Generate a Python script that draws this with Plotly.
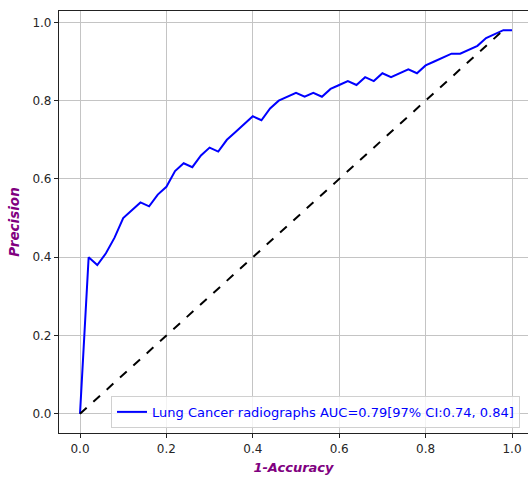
import plotly.graph_objects as go

fpr = [0.00, 0.02, 0.04, 0.06, 0.08, 0.10, 0.12, 0.14, 0.16, 0.18, 0.20,
       0.22, 0.24, 0.26, 0.28, 0.30, 0.32, 0.34, 0.36, 0.38, 0.40,
       0.42, 0.44, 0.46, 0.48, 0.50, 0.52, 0.54, 0.56, 0.58, 0.60,
       0.62, 0.64, 0.66, 0.68, 0.70, 0.72, 0.74, 0.76, 0.78, 0.80,
       0.82, 0.84, 0.86, 0.88, 0.90, 0.92, 0.94, 0.96, 0.98, 1.00]
precision = [0.00, 0.40, 0.38, 0.41, 0.45, 0.50, 0.52, 0.54, 0.53, 0.56, 0.58,
             0.62, 0.64, 0.63, 0.66, 0.68, 0.67, 0.70, 0.72, 0.74, 0.76,
             0.75, 0.78, 0.80, 0.81, 0.82, 0.81, 0.82, 0.81, 0.83, 0.84,
             0.85, 0.84, 0.86, 0.85, 0.87, 0.86, 0.87, 0.88, 0.87, 0.89,
             0.90, 0.91, 0.92, 0.92, 0.93, 0.94, 0.96, 0.97, 0.98, 0.98]
diag_x = [0.0, 0.98]
diag_y = [0.0, 0.98]
ticks = [0.0, 0.2, 0.4, 0.6, 0.8, 1.0]
tick_labels = ["0.0", "0.2", "0.4", "0.6", "0.8", "1.0"]
legend_label = "Lung Cancer radiographs AUC=0.79[97% CI:0.74, 0.84]"

fig = go.Figure()
fig.add_trace(go.Scatter(x=fpr, y=precision, mode="lines",
                         line=dict(color="#0000ff", width=2),
                         name=legend_label))
fig.add_trace(go.Scatter(x=diag_x, y=diag_y, mode="lines",
                         line=dict(color="black", width=2, dash="dash"),
                         showlegend=False))

axis_common = dict(
    showgrid=True, gridcolor="#c4c4c4", gridwidth=1,
    zeroline=False, showline=True, linecolor="#222222", linewidth=1.2,
    ticks="outside", ticklen=4, tickcolor="#222222", tickwidth=1,
    tickfont=dict(family="DejaVu Sans", size=12, color="#262626"),
    tickvals=ticks, ticktext=tick_labels,
)

fig.update_layout(
    width=528, height=482,
    margin=dict(l=59, r=0, t=11, b=49),
    plot_bgcolor="white", paper_bgcolor="white",
    xaxis=dict(range=[-0.0486, 1.037], mirror=True,
               title=dict(text="<b><i>1-Accuracy</i></b>", standoff=8,
                          font=dict(family="DejaVu Sans", size=13, color="#800080")),
               **axis_common),
    yaxis=dict(range=[-0.049, 1.029],
               title=dict(text="<b><i>Precision</i></b>", standoff=9,
                          font=dict(family="DejaVu Sans", size=13.5, color="#800080")),
               **axis_common),
    legend=dict(x=0.983, y=0.012, xanchor="right", yanchor="bottom",
                bgcolor="rgba(255,255,255,0.8)", bordercolor="#d0d0d0", borderwidth=1,
                font=dict(family="DejaVu Sans", size=13, color="#0000ff")),
)

fig.write_html("out.html")
